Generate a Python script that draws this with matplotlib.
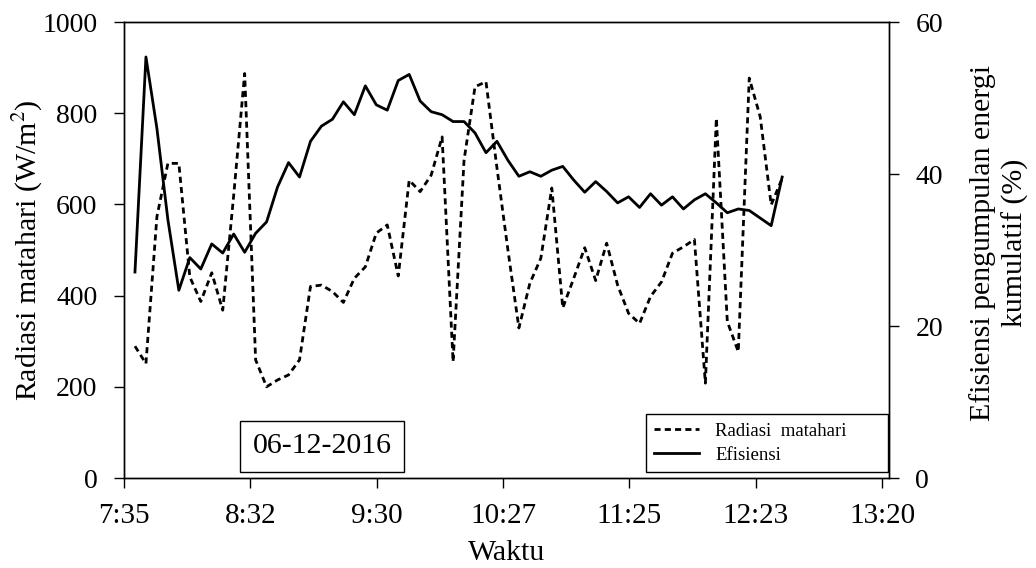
import matplotlib
matplotlib.use("Agg")
import matplotlib.pyplot as plt
import pandas as pd

plt.rcParams["font.family"] = ["Liberation Serif", "DejaVu Serif"]
plt.rcParams["mathtext.fontset"] = "stix"

# Measurement times (every 5 minutes) on 06-12-2016
waktu = pd.date_range("2016-12-06 07:40", "2016-12-06 12:35", freq="5min")

# Solar radiation (W/m2)
radiasi = [289, 251, 573, 690, 690, 441, 387, 450, 368, 620,
           887, 259, 200, 215, 226, 259, 420, 423, 409, 385,
           438, 463, 537, 555, 443, 653, 628, 664, 748, 255,
           697, 858, 869, 680, 500, 329, 427, 482, 636, 373,
           438, 505, 433, 515, 423, 361, 339, 398, 430, 493,
           507, 523, 208, 789, 343, 277, 877, 792, 599, 657]

# Cumulative energy collection efficiency (%)
efisiensi = [27.1, 55.4, 46.0, 34.0, 24.7, 29.0, 27.5, 30.8, 29.6, 32.1,
             29.7, 32.2, 33.7, 38.3, 41.5, 39.6, 44.3, 46.3, 47.2, 49.5,
             47.8, 51.6, 49.1, 48.4, 52.3, 53.1, 49.6, 48.2, 47.8, 46.9,
             46.9, 45.4, 42.8, 44.3, 41.8, 39.7, 40.3, 39.7, 40.5, 41.0,
             39.2, 37.6, 39.0, 37.7, 36.2, 37.0, 35.6, 37.4, 35.9, 37.0,
             35.4, 36.6, 37.4, 36.2, 34.9, 35.4, 35.2, 34.2, 33.2, 39.6]

tick_labels = ["7:35", "8:32", "9:30", "10:27", "11:25", "12:23", "13:20"]

# x in minutes after midnight
menit = [t.hour * 60 + t.minute for t in waktu]
x_start = 7 * 60 + 35
tick_step = 57.6          # 0.04 day
x_end = x_start + 348.7

fig = plt.figure(figsize=(10.36, 5.68), dpi=100)
ax = fig.add_axes([124 / 1036, 1 - 478 / 568, (889 - 124) / 1036, (478 - 22) / 568])
ax2 = ax.twinx()

l1, = ax.plot(menit, radiasi, color="black", lw=2.0, dashes=(2.2, 1.5),
              label="Radiasi  matahari")
l2, = ax2.plot(menit, efisiensi, color="black", lw=2.0, label="Efisiensi")

ax.set_xlim(x_start, x_end)
ax.set_xticks([x_start + k * tick_step for k in range(len(tick_labels))])
ax.set_xticklabels(tick_labels)
ax.set_ylim(0, 1000)
ax.set_yticks(range(0, 1001, 200))
ax2.set_ylim(0, 60)
ax2.set_yticks(range(0, 61, 20))

for a in (ax, ax2):
    a.tick_params(direction="out", length=7, width=1, labelsize=20, pad=12)
    for s in a.spines.values():
        s.set_linewidth(1.0)
ax.tick_params(axis="x", labelsize=21, pad=11)

ax.set_xlabel("Waktu", fontsize=21.5, labelpad=8)
ax.set_ylabel("Radiasi matahari (W/m$^2$)", fontsize=21.5, labelpad=-1.5)
ax2.set_ylabel("Efisiensi pengumpulan energi\nkumulatif (%)", fontsize=21.5,
               labelpad=18, linespacing=1.28)
ax2.yaxis.set_label_coords(1.105, 0.515)

ax.text(0.259, 0.07, "06-12-2016", transform=ax.transAxes, fontsize=21.5,
        ha="center", va="center",
        bbox=dict(boxstyle="square,pad=0.42", fc="white", ec="black", lw=1.0))

leg = ax.legend(handles=[l1, l2], loc="lower left",
                bbox_to_anchor=(0.682, 0.013, 0.317, 0.132), mode="expand",
                borderaxespad=0, fancybox=False, edgecolor="black", framealpha=1,
                fontsize=13.5, handlelength=2.4, handletextpad=0.85,
                labelspacing=0.35, borderpad=0.45)
leg.get_frame().set_linewidth(1.0)
leg.set_zorder(5)

fig.savefig("out.png", dpi=100)
